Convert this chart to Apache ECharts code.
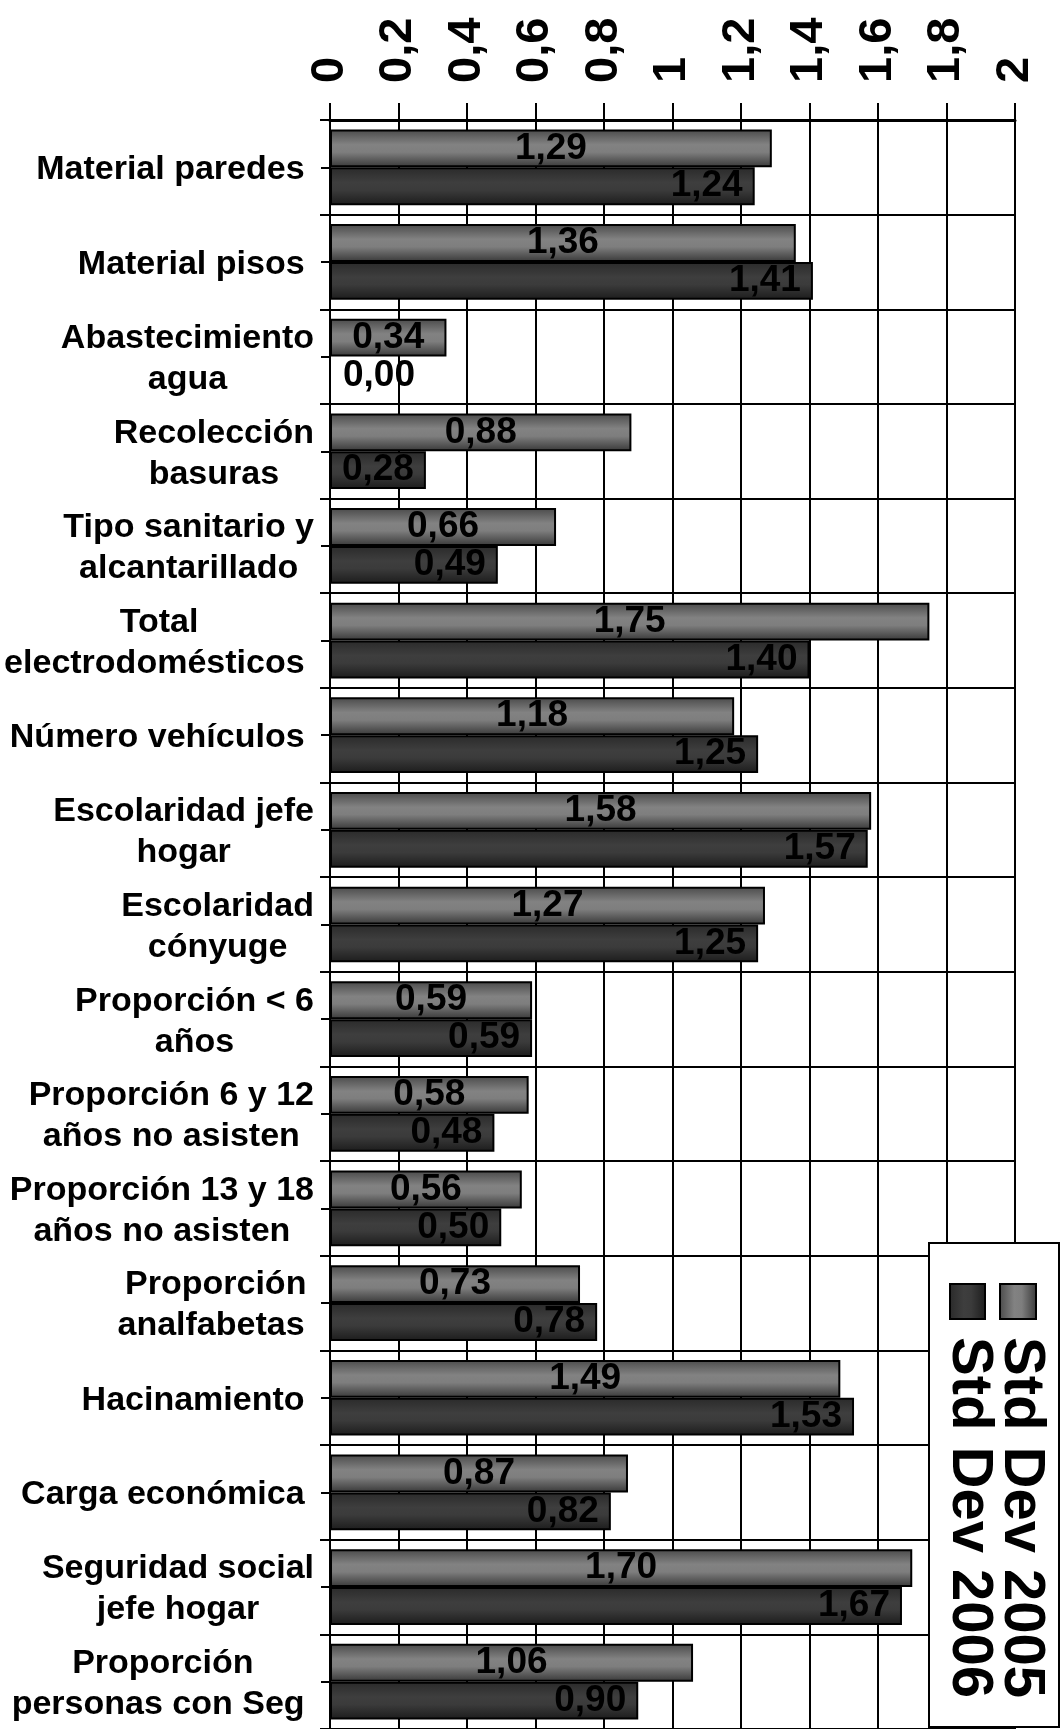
<!DOCTYPE html>
<html>
<head>
<meta charset="utf-8">
<script src="https://cdn.jsdelivr.net/npm/echarts@6/dist/echarts.min.js"></script>
<style>
html,body{margin:0;padding:0;background:#fff;}
#chart{width:1061px;height:1729px;}
</style>
</head>
<body>
<div id="chart"></div>
<script>
const categories = [
  "Material paredes ",
  "Material pisos ",
  "Abastecimiento\nagua",
  "Recolección\nbasuras",
  "Tipo sanitario y\nalcantarillado",
  "Total\nelectrodomésticos ",
  "Número vehículos ",
  "Escolaridad jefe\nhogar",
  "Escolaridad\ncónyuge",
  "Proporción < 6\naños",
  "Proporción 6 y 12\naños no asisten",
  "Proporción 13 y 18\naños no asisten",
  "Proporción\nanalfabetas ",
  "Hacinamiento ",
  "Carga económica ",
  "Seguridad social\njefe hogar",
  "Proporción\npersonas con Seg "
];
const std2005 = [1.29, 1.36, 0.34, 0.88, 0.66, 1.75, 1.18, 1.58, 1.27, 0.59, 0.58, 0.56, 0.73, 1.49, 0.87, 1.70, 1.06];
const std2006 = [1.24, 1.41, 0.00, 0.28, 0.49, 1.40, 1.25, 1.57, 1.25, 0.59, 0.48, 0.50, 0.78, 1.53, 0.82, 1.67, 0.90];
const seriesNames = ["Std Dev 2005", "Std Dev 2006"];
const axisMin = 0, axisMax = 2, axisStep = 0.2;

const FONT = "'Liberation Sans', Arial, sans-serif";
const chart = echarts.init(document.getElementById('chart'), null, {renderer: 'canvas'});

function grad2005(horizontal) {
  return new echarts.graphic.LinearGradient(0, 0, horizontal ? 1 : 0, horizontal ? 0 : 1, [
    {offset: 0, color: '#4a4a4a'},
    {offset: 0.4, color: '#828282'},
    {offset: 0.6, color: '#7e7e7e'},
    {offset: 1, color: '#383838'}
  ]);
}
function grad2006(horizontal) {
  return new echarts.graphic.LinearGradient(0, 0, horizontal ? 1 : 0, horizontal ? 0 : 1, [
    {offset: 0, color: '#2a2a2a'},
    {offset: 0.4, color: '#3e3e3e'},
    {offset: 0.6, color: '#3b3b3b'},
    {offset: 1, color: '#1c1c1c'}
  ]);
}
const fmt = p => p.value.toFixed(2).replace('.', ',');
const labelStyle = {show: true, color: '#000', fontFamily: FONT, fontWeight: 'bold', fontSize: 37, formatter: fmt};

const option = {
  backgroundColor: '#fff',
  animation: false,
  grid: {left: 330, right: 46, top: 120, bottom: -5, containLabel: false},
  xAxis: {
    type: 'value', position: 'top', min: axisMin, max: axisMax, interval: axisStep,
    axisLine: {show: true, lineStyle: {color: '#000', width: 3}},
    axisTick: {show: true, inside: false, length: 17, lineStyle: {color: '#000', width: 2}},
    splitLine: {show: true, lineStyle: {color: '#000', width: 2}},
    axisLabel: {
      rotate: -90, margin: 37, color: '#000', fontFamily: FONT, fontWeight: 'bold', fontSize: 47,
      formatter: v => String(Math.round(v * 10) / 10).replace('.', ',')
    }
  },
  yAxis: [{
    type: 'category', data: categories, inverse: true, position: 'left',
    axisLine: {show: true, lineStyle: {color: '#000', width: 2}},
    axisTick: {show: true, length: 10, lineStyle: {color: '#000', width: 2}},
    splitLine: {show: true, lineStyle: {color: '#000', width: 2}},
    axisLabel: {
      margin: 16, color: '#000', fontFamily: FONT, fontWeight: 'bold', fontSize: 34, lineHeight: 41,
      formatter: v => v.split('\n').map(l => '{c|' + l + '}').join('\n'),
      rich: {c: {align: 'center', color: '#000', fontFamily: FONT, fontWeight: 'bold', fontSize: 34, lineHeight: 41, padding: [5, 0, 0, 0]}}
    }
  }, {
    type: 'category', data: categories, inverse: true, position: 'left',
    axisLine: {show: false},
    axisTick: {show: true, alignWithLabel: true, length: 9, lineStyle: {color: '#000', width: 2}},
    splitLine: {show: false},
    axisLabel: {show: false}
  }],
  series: [{
    name: seriesNames[0], type: 'bar', yAxisIndex: 0,
    data: std2005,
    barGap: '0%', barCategoryGap: '20%',
    itemStyle: {color: grad2005(false), borderColor: '#000', borderWidth: 2},
    label: Object.assign({position: 'inside'}, labelStyle)
  }, {
    name: seriesNames[1], type: 'bar', yAxisIndex: 0,
    data: std2006.map(v => v === 0 ? {value: v, label: {position: 'right', distance: 12}} : v),
    barGap: '0%', barCategoryGap: '20%',
    itemStyle: {color: grad2006(false), borderColor: '#000', borderWidth: 2},
    label: Object.assign({position: 'insideRight', distance: 12}, labelStyle)
  }],
  graphic: [
    {type: 'rect', z: 100, shape: {x: 929, y: 1243, width: 130, height: 484},
     style: {fill: '#fff', stroke: '#000', lineWidth: 2}},
    {type: 'rect', z: 101, shape: {x: 1000, y: 1284, width: 36, height: 35},
     style: {fill: grad2005(true), stroke: '#000', lineWidth: 2}},
    {type: 'rect', z: 101, shape: {x: 950, y: 1284, width: 35, height: 35},
     style: {fill: grad2006(true), stroke: '#000', lineWidth: 2}},
    {type: 'text', z: 101, x: 1021, y: 1337, rotation: -Math.PI / 2,
     style: {text: seriesNames[0], fill: '#000', font: 'bold 58px ' + FONT, textAlign: 'left', textVerticalAlign: 'middle'}},
    {type: 'text', z: 101, x: 969, y: 1337, rotation: -Math.PI / 2,
     style: {text: seriesNames[1], fill: '#000', font: 'bold 58px ' + FONT, textAlign: 'left', textVerticalAlign: 'middle'}}
  ]
};
chart.setOption(option);
</script>
</body>
</html>
